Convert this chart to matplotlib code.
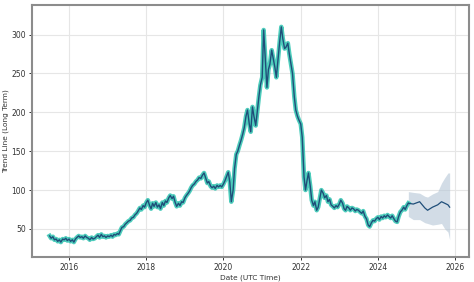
import matplotlib
matplotlib.use("Agg")
import matplotlib.pyplot as plt
import matplotlib.dates as mdates
import pandas as pd

# ---- history (trend line), semi-monthly readings ----
v2015 = [41, 38, 40, 36, 37, 34, 36, 33, 37, 36, 38, 35]
v2016 = [37, 34, 36, 33, 37, 39, 41, 39, 40, 38, 41, 39, 38, 36, 39, 37, 38, 40, 42, 39, 43, 40, 41, 39]
v2017 = [41, 40, 42, 40, 43, 42, 44, 43, 48, 52, 53, 56, 58, 60, 61, 64, 65, 68, 70, 73, 77, 75, 80, 78]
v2018 = [84, 87, 80, 76, 83, 79, 84, 78, 81, 76, 84, 80, 86, 84, 90, 93, 89, 92, 84, 79, 83, 80, 85, 84]
v2019 = [90, 93, 96, 99, 103, 106, 108, 111, 113, 116, 115, 119, 122, 116, 109, 111, 105, 103, 105, 102, 106, 104, 106, 104]
v2020 = [108, 112, 118, 123, 110, 85, 100, 128, 146, 150, 158, 164, 172, 180, 195, 203, 185, 175, 207, 195, 183, 200, 220, 235]
v2021 = [245, 306, 265, 232, 255, 262, 280, 270, 258, 245, 270, 290, 310, 295, 282, 284, 289, 275, 262, 250, 220, 203, 195, 190]
v2022 = [185, 168, 117, 100, 112, 122, 105, 87, 80, 85, 74, 78, 90, 100, 96, 90, 93, 85, 88, 81, 79, 77, 80, 78]
v2023 = [82, 87, 83, 76, 74, 79, 77, 74, 77, 76, 73, 75, 74, 72, 70, 73, 66, 63, 55, 53, 58, 61, 60, 63]
v2024 = [65, 62, 66, 64, 67, 65, 68, 66, 64, 67, 63, 60, 59, 66, 72, 74, 78, 75, 80, 83]
hist_values = v2015 + v2016 + v2017 + v2018 + v2019 + v2020 + v2021 + v2022 + v2023 + v2024
hist_start = "2015-07-01"

# ---- forecast ----
fc_dates = ["2024-10-15", "2024-12-01", "2025-01-30", "2025-03-20", "2025-04-15", "2025-06-01",
            "2025-07-20", "2025-08-25", "2025-09-25", "2025-10-25", "2025-11-10"]
fc_values = [83, 82, 85, 77, 74, 78, 81, 85, 83, 81, 78]
fc_upper = [98, 97, 96, 92, 91, 95, 98, 109, 116, 122, 122]
fc_lower = [66, 62, 62, 58, 57, 55, 56, 57, 50, 46, 36]

hd = pd.date_range(hist_start, periods=len(hist_values), freq="SMS")
fd = pd.to_datetime(fc_dates)

fig = plt.figure(figsize=(4.74, 2.82), dpi=100)
ax = fig.add_axes([0.0675, 0.089, 0.9215, 0.893])

ax.plot(hd, hist_values, color="#2ec4b0", lw=3.2, alpha=0.85, solid_joinstyle="round", zorder=2)
ax.plot(hd, hist_values, color="#1f4e79", lw=1.0, zorder=3)

ax.fill_between(fd, fc_lower, fc_upper, color="#b4c6d6", alpha=0.6, lw=0, zorder=1)
ax.plot(fd, fc_values, color="#1f4e79", lw=0.9, zorder=3)

ax.set_xlim(pd.Timestamp("2015-01-15"), pd.Timestamp("2026-05-10"))
ax.set_ylim(14, 338)
ax.set_yticks([50, 100, 150, 200, 250, 300])
ax.xaxis.set_major_locator(mdates.YearLocator(2))
ax.xaxis.set_major_formatter(mdates.DateFormatter("%Y"))

ax.grid(True, color="#e6e6e6", lw=0.8)
ax.set_axisbelow(True)
for s in ax.spines.values():
    s.set_color("#8c8c8c")
    s.set_linewidth(1.5)
ax.tick_params(labelsize=5.5, colors="#333333", length=2.5, width=0.7, pad=2)
ax.set_xlabel("Date (UTC Time)", fontsize=5.3, color="#333333", labelpad=1.5)
ax.set_ylabel("Trend Line (Long Term)", fontsize=5.3, color="#333333")
ax.yaxis.set_label_coords(-0.052, 0.5)

fig.savefig("out.png", dpi=100)
